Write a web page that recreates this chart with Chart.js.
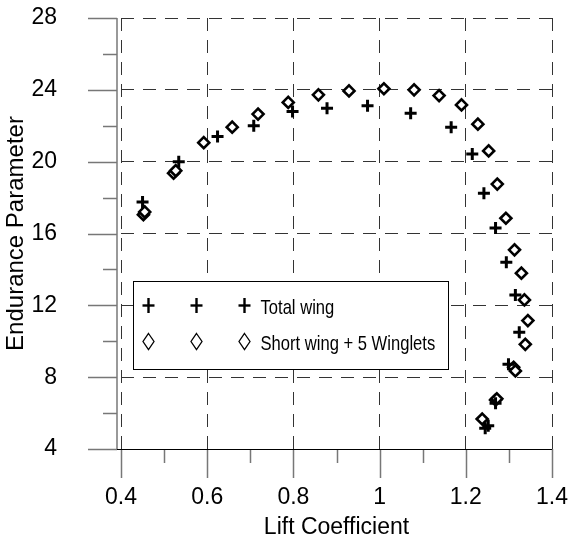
<!DOCTYPE html>
<html>
<head>
<meta charset="utf-8">
<script src="https://cdn.jsdelivr.net/npm/chart.js@4.4.1/dist/chart.umd.min.js"></script>
<style>
    html, body { margin: 0; padding: 0; background: #fff; }
    #wrap { width: 570px; height: 545px; }
</style>
</head>
<body>
<div id="wrap"><canvas id="enduranceChart" width="570" height="545"></canvas></div>
<script>
(function() {

    // values
    let liftTotal = [0.450, 0.534, 0.624, 0.708, 0.798, 0.878, 0.972, 1.072, 1.166, 1.215, 1.242, 1.269, 1.294, 1.315, 1.324, 1.299, 1.269, 1.245, 1.252];
    let enduranceTotal = [17.76, 19.99, 21.40, 22.00, 22.79, 22.98, 23.11, 22.70, 21.92, 20.43, 18.24, 16.30, 14.40, 12.58, 10.50, 8.72, 6.55, 5.15, 5.30];

    let liftWinglets = [0.452, 0.455, 0.522, 0.527, 0.592, 0.658, 0.718, 0.788, 0.858, 0.929, 1.010, 1.080, 1.138, 1.190, 1.228, 1.253, 1.273, 1.293, 1.313, 1.329, 1.336, 1.344, 1.338, 1.311, 1.315, 1.269, 1.272, 1.238];
    let enduranceWinglets = [17.05, 17.20, 19.36, 19.50, 21.06, 21.92, 22.65, 23.30, 23.72, 23.94, 24.06, 24.00, 23.68, 23.16, 22.09, 20.60, 18.75, 16.85, 15.09, 13.79, 12.30, 11.15, 9.83, 8.55, 8.35, 6.73, 6.80, 5.67];

    let seriesLabels = ["Total wing", "Short wing + 5 Winglets"];

    let xTicks = [0.4, 0.6, 0.8, 1, 1.2, 1.4];
    let xMinorTicks = [0.5, 0.7, 0.9, 1.1, 1.3];
    let yTicks = [4, 8, 12, 16, 20, 24, 28];
    let yMinorTicks = [6, 10, 14, 18, 22, 26];

    let textFont = { family: "'Liberation Sans', Arial, sans-serif", size: 23 };
    let yTitleFont = { family: "'Liberation Sans', Arial, sans-serif", size: 24 };
    let legendFont = "21px 'Liberation Sans', Arial, sans-serif";
    let legendSqueeze = 0.79;

    function toPoints(xs, ys) {
        return xs.map((x, i) => ({ x: x, y: ys[i] }));
    }

    function strokeLine(ctx, x1, y1, x2, y2) {
        ctx.beginPath();
        ctx.moveTo(x1, y1);
        ctx.lineTo(x2, y2);
        ctx.stroke();
    }

    function drawPlus(ctx, cx, cy, w, h) {
        strokeLine(ctx, cx - w / 2, cy, cx + w / 2, cy);
        strokeLine(ctx, cx, cy - h / 2, cx, cy + h / 2);
    }

    function drawDiamond(ctx, cx, cy, w, h) {
        ctx.beginPath();
        ctx.moveTo(cx, cy - h / 2);
        ctx.lineTo(cx + w / 2, cy);
        ctx.lineTo(cx, cy + h / 2);
        ctx.lineTo(cx - w / 2, cy);
        ctx.closePath();
        ctx.stroke();
    }

    // axis lines and the outside tick marks (long majors, short minors)
    let axesPlugin = {
        id: "axesPlugin",
        beforeDatasetsDraw(chart) {
            let ctx = chart.ctx;
            let area = chart.chartArea;
            let xs = chart.scales.x;
            let ys = chart.scales.y;
            let axisX = area.left - 4;

            ctx.save();
            ctx.strokeStyle = "#777";
            ctx.lineWidth = 1.5;
            strokeLine(ctx, axisX, area.top, axisX, area.bottom);
            yTicks.forEach(v => {
                let py = Math.round(ys.getPixelForValue(v)) + 0.5;
                strokeLine(ctx, axisX - 29, py, axisX, py);
            });
            yMinorTicks.forEach(v => {
                let py = Math.round(ys.getPixelForValue(v)) + 0.5;
                strokeLine(ctx, axisX - 14, py, axisX, py);
            });
            xTicks.forEach(v => {
                let px = Math.round(xs.getPixelForValue(v)) + 0.5;
                strokeLine(ctx, px, area.bottom, px, area.bottom + 29);
            });
            xMinorTicks.forEach(v => {
                let px = Math.round(xs.getPixelForValue(v)) + 0.5;
                strokeLine(ctx, px, area.bottom, px, area.bottom + 14);
            });
            ctx.strokeStyle = "#000";
            ctx.lineWidth = 1.2;
            let by = Math.round(area.bottom) + 0.5;
            strokeLine(ctx, axisX, by, area.right, by);
            ctx.restore();
        }
    };

    // boxed legend with three markers per entry
    let legendPlugin = {
        id: "legendPlugin",
        afterDatasetsDraw(chart) {
            let ctx = chart.ctx;
            let area = chart.chartArea;
            let left = Math.round(area.left) + 12.5;
            let top = Math.round(area.top) + 263.5;
            let width = 315;
            let height = 88;

            ctx.save();
            ctx.fillStyle = "#fff";
            ctx.fillRect(left, top, width, height);
            ctx.strokeStyle = "#000";
            ctx.lineWidth = 1;
            ctx.strokeRect(left, top, width, height);

            let markerX = [15, 63, 111];
            markerX.forEach(dx => {
                ctx.lineWidth = 2.4;
                drawPlus(ctx, left + dx, top + 24, 12, 15);
                ctx.lineWidth = 1.3;
                drawDiamond(ctx, left + dx, top + 60, 11, 16);
            });

            // narrow type: squeeze a regular face sideways
            ctx.fillStyle = "#000";
            ctx.font = legendFont;
            ctx.textAlign = "left";
            ctx.textBaseline = "alphabetic";
            ctx.translate(left + 127, 0);
            ctx.scale(legendSqueeze, 1);
            ctx.fillText(seriesLabels[0], 0, top + 32);
            ctx.fillText(seriesLabels[1], 0, top + 68);
            ctx.restore();
        }
    };

    let ctx = document.getElementById("enduranceChart");
    let enduranceChart = new Chart(ctx, {
        type: "scatter",
        data: {
            datasets: [
                {
                    label: seriesLabels[0],
                    data: toPoints(liftTotal, enduranceTotal),
                    pointStyle: "cross",
                    pointRadius: 6,
                    pointBorderWidth: 3,
                    borderColor: "#000",
                    backgroundColor: "#000"
                },
                {
                    label: seriesLabels[1],
                    data: toPoints(liftWinglets, enduranceWinglets),
                    pointStyle: "rectRot",
                    pointRadius: 5.5,
                    pointBorderWidth: 2.6,
                    borderColor: "#000",
                    backgroundColor: "#fff"
                }
            ]
        },
        options: {
            responsive: false,
            animation: false,
            devicePixelRatio: 1,
            layout: { padding: { top: 18, right: 17, left: 0, bottom: 0 } },
            plugins: {
                legend: { display: false },
                tooltip: { enabled: false }
            },
            scales: {
                x: {
                    type: "linear",
                    min: 0.4,
                    max: 1.4,
                    afterBuildTicks: scale => { scale.ticks = xTicks.map(v => ({ value: v })); },
                    afterFit: scale => { scale.height = 96; },
                    grid: { color: "#333", lineWidth: 1, tickLength: 33, tickColor: "rgba(0,0,0,0)" },
                    border: { display: false, dash: [13, 9] },
                    ticks: {
                        color: "#000",
                        font: textFont,
                        padding: 2,
                        maxRotation: 0,
                        callback: v => String(+v.toFixed(1))
                    },
                    title: {
                        display: true,
                        text: "Lift Coefficient",
                        color: "#000",
                        font: textFont,
                        padding: { top: 0, bottom: 4 }
                    }
                },
                y: {
                    type: "linear",
                    min: 4,
                    max: 28,
                    afterBuildTicks: scale => { scale.ticks = yTicks.map(v => ({ value: v })); },
                    afterFit: scale => { scale.width = 121; },
                    grid: { color: "#333", lineWidth: 1, tickLength: 62, tickColor: "rgba(0,0,0,0)" },
                    border: { display: false, dash: [13, 9] },
                    ticks: {
                        color: "#000",
                        font: textFont,
                        padding: 2
                    },
                    title: {
                        display: true,
                        text: "Endurance Parameter",
                        color: "#000",
                        font: yTitleFont,
                        padding: { top: 2, bottom: 0 }
                    }
                }
            }
        },
        plugins: [axesPlugin, legendPlugin]
    });

}());
</script>
</body>
</html>
